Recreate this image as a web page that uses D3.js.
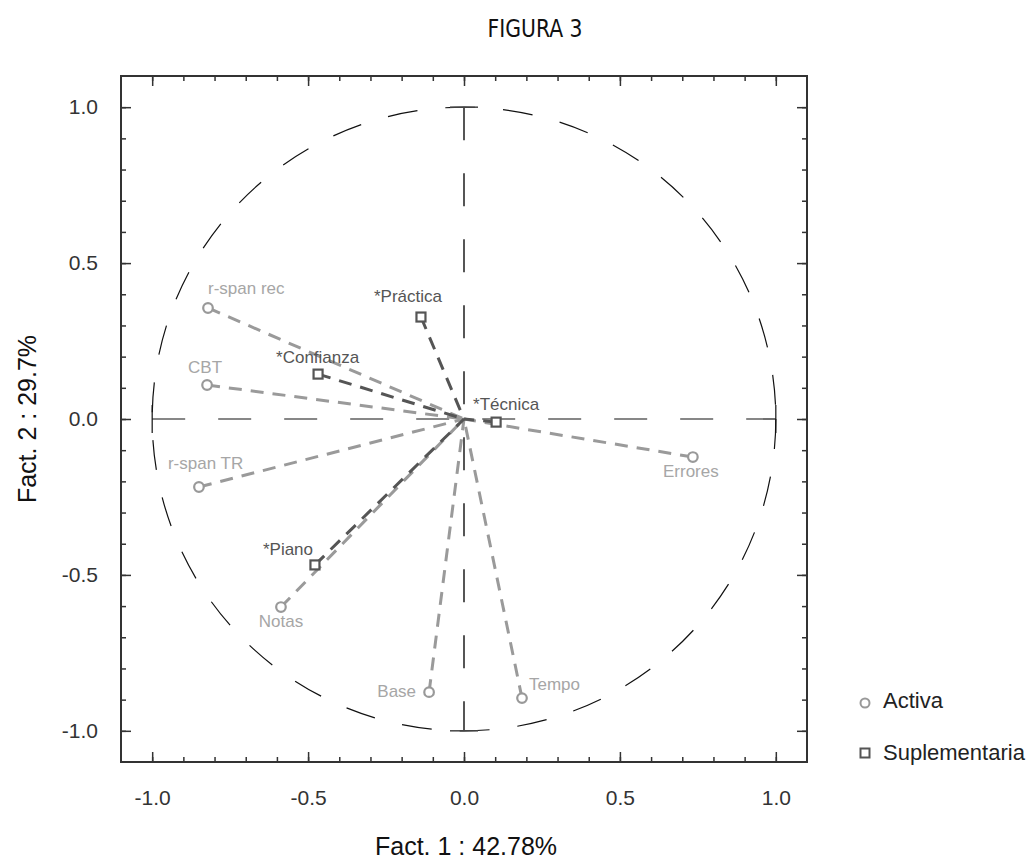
<!DOCTYPE html>
<html>
<head>
<meta charset="utf-8">
<script src="https://cdn.jsdelivr.net/npm/d3@7"></script>
<style>
  body { margin: 0; background: #fff; }
  text { font-family: "Liberation Sans", Arial, sans-serif; }
</style>
</head>
<body>
<svg id="vis" width="1031" height="865"></svg>
<script>
const width = 1031;
const height = 865;

// variables (activa) and supplementary variables, coordinates on factors 1 and 2
const activeNames = ["r-span rec", "CBT", "r-span TR", "Notas", "Base", "Tempo", "Errores"];
const activeF1 = [-0.821, -0.824, -0.850, -0.587, -0.112, 0.186, 0.734];
const activeF2 = [0.356, 0.109, -0.218, -0.603, -0.876, -0.895, -0.122];

const suppNames = ["*Práctica", "*Confianza", "*Técnica", "*Piano"];
const suppF1 = [-0.138, -0.468, 0.103, -0.478];
const suppF2 = [0.327, 0.144, -0.010, -0.468];

const majorTicks = [-1.0, -0.5, 0.0, 0.5, 1.0];
const minorTicks = d3.range(-10, 11).map(d => d / 10);
const legendLabels = ["Activa", "Suplementaria"];

// label placement relative to each point [dx, dy, anchor]
const labelPos = {
  "r-span rec": [0, -14, "start"],
  "CBT": [-19, -12, "start"],
  "r-span TR": [-31, -18, "start"],
  "Notas": [0, 20, "middle"],
  "Base": [-13, 5, "end"],
  "Tempo": [7, -8, "start"],
  "Errores": [-2, 20, "middle"],
  "*Práctica": [-47, -15, "start"],
  "*Confianza": [-42, -11, "start"],
  "*Técnica": [-23, -12, "start"],
  "*Piano": [-52, -10, "start"]
};

const active = activeNames.map((n, i) => ({name: n, f1: activeF1[i], f2: activeF2[i]}));
const supp = suppNames.map((n, i) => ({name: n, f1: suppF1[i], f2: suppF2[i]}));

const svg = d3.select("svg#vis");

const frame = {left: 121, right: 807, top: 76, bottom: 762};
const x = d3.scaleLinear().domain([-1.1, 1.1]).range([frame.left, frame.right]);
const y = d3.scaleLinear().domain([-1.1, 1.1]).range([frame.bottom, frame.top]);
const fmt = d => d.toFixed(1);

// title
svg.append("text")
  .attr("x", 535)
  .attr("y", 37)
  .attr("text-anchor", "middle")
  .attr("textLength", 95)
  .attr("lengthAdjust", "spacingAndGlyphs")
  .style("font-family", "'Liberation Sans Narrow', 'DejaVu Sans Condensed', sans-serif")
  .style("font-size", "25px")
  .style("fill", "#111")
  .text("FIGURA 3");

// axes, ticks inward on all 4 sides
function addAxis(axisFn, tr, vals, size, labels) {
  const a = axisFn.tickValues(vals).tickSizeInner(-size).tickSizeOuter(0);
  if (labels) a.tickFormat(fmt).tickPadding(labels); else a.tickFormat("");
  const g = svg.append("g").attr("transform", tr).call(a);
  g.select(".domain").remove();
  g.selectAll("line").attr("stroke", "#333").attr("stroke-width", 1.5);
  g.selectAll("text")
    .style("font-family", "'Liberation Sans', Arial, sans-serif")
    .style("font-size", "21px")
    .style("fill", "#333");
  return g;
}

addAxis(d3.axisBottom(x), "translate(0," + frame.bottom + ")", minorTicks, 5);
addAxis(d3.axisBottom(x), "translate(0," + frame.bottom + ")", majorTicks, 10, 28);
addAxis(d3.axisTop(x), "translate(0," + frame.top + ")", minorTicks, 5);
addAxis(d3.axisTop(x), "translate(0," + frame.top + ")", majorTicks, 10);
addAxis(d3.axisLeft(y), "translate(" + frame.left + ",0)", minorTicks, 5);
addAxis(d3.axisLeft(y), "translate(" + frame.left + ",0)", majorTicks, 10, 23);
addAxis(d3.axisRight(y), "translate(" + frame.right + ",0)", minorTicks, 5);
addAxis(d3.axisRight(y), "translate(" + frame.right + ",0)", majorTicks, 10);

svg.append("rect")
  .attr("x", frame.left)
  .attr("y", frame.top)
  .attr("width", frame.right - frame.left)
  .attr("height", frame.bottom - frame.top)
  .attr("fill", "none")
  .attr("stroke", "#333")
  .attr("stroke-width", 2);

// axis titles
svg.append("text")
  .attr("x", 466)
  .attr("y", 855)
  .attr("text-anchor", "middle")
  .style("font-size", "25px")
  .style("fill", "#111")
  .text("Fact. 1 : 42.78%");

svg.append("text")
  .attr("transform", "translate(36,419) rotate(-90)")
  .attr("text-anchor", "middle")
  .style("font-size", "25px")
  .style("fill", "#111")
  .text("Fact. 2 : 29.7%");

// unit circle
svg.append("circle")
  .attr("cx", x(0))
  .attr("cy", y(0))
  .attr("r", x(1) - x(0))
  .attr("fill", "none")
  .attr("stroke", "#111")
  .attr("stroke-width", 1.2)
  .attr("stroke-dasharray", "30,28");

// dashed cross through the origin with end caps
const cap = 14;
svg.append("line")
  .attr("x1", x(-1)).attr("x2", x(1))
  .attr("y1", y(0)).attr("y2", y(0))
  .attr("stroke", "#111").attr("stroke-width", 1.2)
  .attr("stroke-dasharray", "33,33");
svg.append("line")
  .attr("x1", x(0)).attr("x2", x(0))
  .attr("y1", y(1)).attr("y2", y(-1))
  .attr("stroke", "#444").attr("stroke-width", 1.8)
  .attr("stroke-dasharray", "33,33");
[-1, 1].forEach(function(v) {
  svg.append("line")
    .attr("x1", x(v)).attr("x2", x(v))
    .attr("y1", y(0) - cap).attr("y2", y(0) + cap)
    .attr("stroke", "#111").attr("stroke-width", 1.2);
  svg.append("line")
    .attr("x1", x(0) - cap).attr("x2", x(0) + cap)
    .attr("y1", y(v)).attr("y2", y(v))
    .attr("stroke", "#444").attr("stroke-width", 1.5);
});

// vectors from each point to the origin
const gLines = svg.append("g");
gLines.selectAll("line.active")
  .data(active)
  .enter()
  .append("line")
  .attr("class", "active")
  .attr("x1", d => x(d.f1)).attr("y1", d => y(d.f2))
  .attr("x2", x(0)).attr("y2", y(0))
  .attr("stroke", "#9a9a9a")
  .attr("stroke-width", 3)
  .attr("stroke-dasharray", "13,9");

gLines.selectAll("line.supp")
  .data(supp)
  .enter()
  .append("line")
  .attr("class", "supp")
  .attr("x1", d => x(d.f1)).attr("y1", d => y(d.f2))
  .attr("x2", x(0)).attr("y2", y(0))
  .attr("stroke", "#555")
  .attr("stroke-width", 3)
  .attr("stroke-dasharray", "13,9");

// markers
svg.selectAll("circle.pt")
  .data(active)
  .enter()
  .append("circle")
  .attr("class", "pt")
  .attr("cx", d => x(d.f1))
  .attr("cy", d => y(d.f2))
  .attr("r", 4.8)
  .attr("fill", "#fff")
  .attr("stroke", "#999")
  .attr("stroke-width", 2.2);

svg.selectAll("rect.pt")
  .data(supp)
  .enter()
  .append("rect")
  .attr("class", "pt")
  .attr("x", d => x(d.f1) - 4.5)
  .attr("y", d => y(d.f2) - 4.5)
  .attr("width", 9)
  .attr("height", 9)
  .attr("fill", "#fff")
  .attr("stroke", "#555")
  .attr("stroke-width", 2.2);

// point labels
function addLabels(data, color) {
  svg.append("g").selectAll("text")
    .data(data)
    .enter()
    .append("text")
    .attr("x", d => x(d.f1) + labelPos[d.name][0])
    .attr("y", d => y(d.f2) + labelPos[d.name][1])
    .attr("text-anchor", d => labelPos[d.name][2])
    .style("font-size", "17px")
    .style("fill", color)
    .text(d => d.name);
}
addLabels(active, "#a6a6a6");
addLabels(supp, "#555");

// legend
const legend = svg.append("g").attr("transform", "translate(865,703)");
legend.append("circle")
  .attr("cx", 0).attr("cy", 0).attr("r", 4.5)
  .attr("fill", "#fff").attr("stroke", "#999").attr("stroke-width", 2);
legend.append("rect")
  .attr("x", -4.5).attr("y", 50 - 4.5).attr("width", 9).attr("height", 9)
  .attr("fill", "#fff").attr("stroke", "#555").attr("stroke-width", 2);
legend.selectAll("text")
  .data(legendLabels)
  .enter()
  .append("text")
  .attr("x", 18)
  .attr("y", (d, i) => 5 + i * 52)
  .style("font-size", "22px")
  .style("fill", "#222")
  .text(d => d);
</script>
</body>
</html>
